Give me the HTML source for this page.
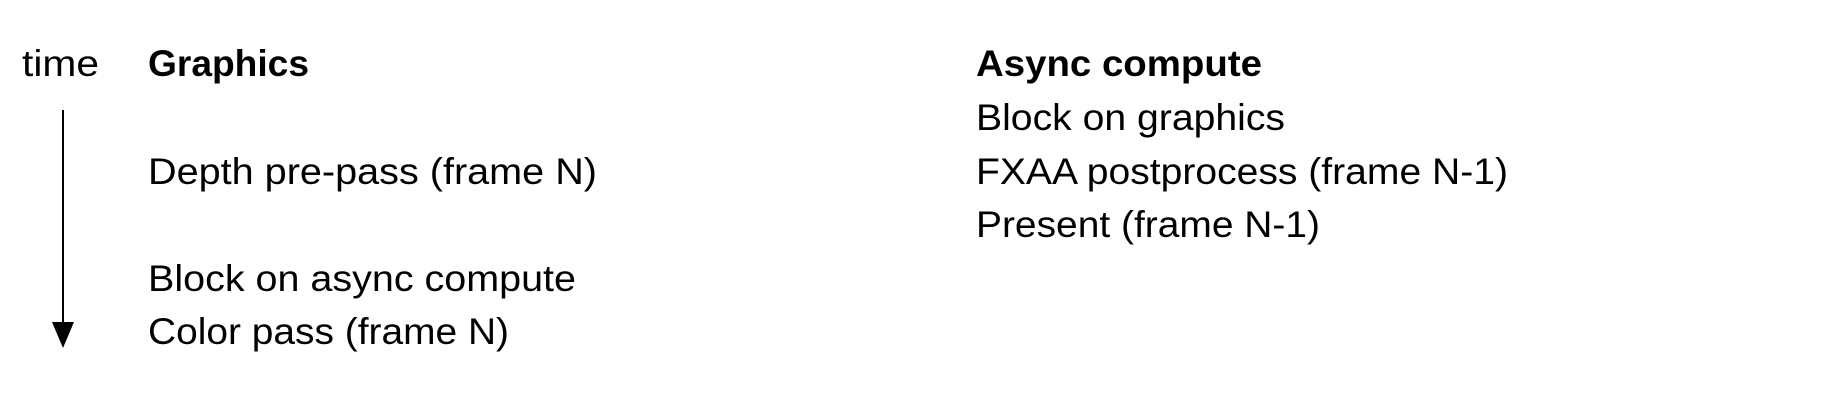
<!DOCTYPE html>
<html><head><meta charset="utf-8"><style>
html,body{margin:0;padding:0;background:#fff;width:1833px;height:400px;overflow:hidden}
svg text{font-family:"Liberation Sans",sans-serif;font-size:37px;fill:#000}
</style></head><body>
<svg width="1833" height="400" viewBox="0 0 1833 400" xmlns="http://www.w3.org/2000/svg">
<text x="22" y="76" textLength="77" lengthAdjust="spacingAndGlyphs">time</text>
<text x="148" y="76" font-weight="bold" textLength="161" lengthAdjust="spacingAndGlyphs">Graphics</text>
<text x="976" y="76" font-weight="bold" textLength="286" lengthAdjust="spacingAndGlyphs">Async compute</text>
<text x="976" y="130" textLength="309" lengthAdjust="spacingAndGlyphs">Block on graphics</text>
<text x="148" y="184" textLength="449" lengthAdjust="spacingAndGlyphs">Depth pre-pass (frame N)</text>
<text x="976" y="184" textLength="532" lengthAdjust="spacingAndGlyphs">FXAA postprocess (frame N-1)</text>
<text x="976" y="237" textLength="344" lengthAdjust="spacingAndGlyphs">Present (frame N-1)</text>
<text x="148" y="291" textLength="428" lengthAdjust="spacingAndGlyphs">Block on async compute</text>
<text x="148" y="344" textLength="361" lengthAdjust="spacingAndGlyphs">Color pass (frame N)</text>
<line x1="63" y1="110" x2="63" y2="326" stroke="#000" stroke-width="2"/>
<polygon points="52,322 74,322 63,348" fill="#000"/>
</svg>
</body></html>
